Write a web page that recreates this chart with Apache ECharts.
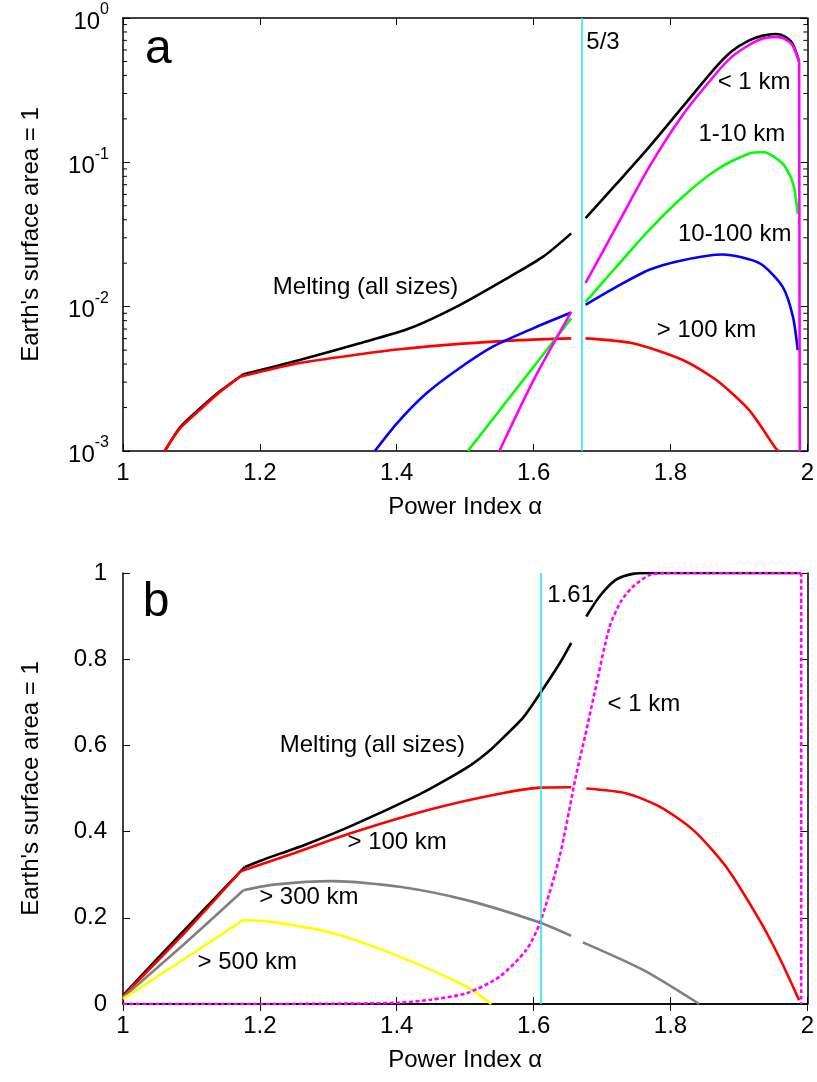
<!DOCTYPE html>
<html><head><meta charset="utf-8">
<script src="https://cdn.jsdelivr.net/npm/echarts@6/dist/echarts.min.js"></script>
<style>html,body{margin:0;padding:0;background:#fff}#c{width:817px;height:1082px}</style>
</head><body><div id="c"></div>
<script>
// ---------- tick values ----------
const xTickValues = [1, 1.2, 1.4, 1.6, 1.8, 2];
const topMinorTicks = [0.002,0.003,0.004,0.005,0.006,0.007,0.008,0.009,
                       0.02,0.03,0.04,0.05,0.06,0.07,0.08,0.09,
                       0.2,0.3,0.4,0.5,0.6,0.7,0.8,0.9];
const topVLine = 5/3;
const botVLine = 1.61;

// ---------- panel a (log scale) ----------
const topBlackLeft = [[1.061,0.001],[1.083,0.00145],[1.112,0.00196],[1.142,0.0026],[1.176,0.0034],
  [1.258,0.00427],[1.346,0.00557],[1.419,0.00708],[1.492,0.01026],[1.565,0.0161],[1.614,0.0222],
  [1.655,0.0322]];
const topBlackRight = [[1.676,0.041],[1.721,0.0708],[1.769,0.128],[1.818,0.243],[1.867,0.46],
  [1.89,0.59],[1.915,0.70],[1.935,0.755],[1.954,0.775],[1.966,0.75],[1.978,0.67],[1.988,0.50]];
const topRedLeft = [[1.061,0.001],[1.083,0.00143],[1.112,0.00192],[1.142,0.00257],[1.171,0.00327],
  [1.258,0.00407],[1.346,0.00468],[1.404,0.00507],[1.492,0.00552],[1.58,0.00586],[1.655,0.00603]];
const topRedRight = [[1.676,0.00603],[1.745,0.00557],[1.818,0.00427],[1.867,0.0031],[1.915,0.00192],
  [1.954,0.00104],[1.958,0.001]];
const topBlueLeft = [[1.368,0.001],[1.40,0.00155],[1.443,0.0025],[1.49,0.0037],[1.541,0.0053],
  [1.60,0.0071],[1.655,0.0091]];
const topBlueRight = [[1.676,0.0103],[1.721,0.0137],[1.769,0.018],[1.818,0.021],[1.876,0.023],
  [1.93,0.020],[1.964,0.0137],[1.979,0.0085],[1.986,0.005]];
const topGreenLeft = [[1.504,0.001],[1.58,0.0029],[1.655,0.0083]];
const topGreenRight = [[1.676,0.0108],[1.721,0.0189],[1.769,0.034],[1.818,0.0578],[1.867,0.0885],
  [1.915,0.115],[1.935,0.118],[1.964,0.098],[1.979,0.0715],[1.986,0.044]];
const topMagentaLeft = [[1.55,0.001],[1.60,0.0031],[1.655,0.0092]];
const topMagentaRight = [[1.676,0.0146],[1.721,0.0358],[1.769,0.093],[1.818,0.213],[1.867,0.414],
  [1.89,0.54],[1.915,0.65],[1.935,0.72],[1.954,0.74],[1.966,0.72],[1.978,0.65],[1.988,0.50],[1.989,0.001]];
const topNotes = [[1.677,0.68,'5/3'],[1.869,0.36,'< 1 km'],[1.841,0.155,'1-10 km'],
  [1.811,0.0318,'10-100 km'],[1.78,0.0069,'> 100 km'],[1.219,0.0137,'Melting (all sizes)']];
const topLetter = [[1.032,0.6,'a']];

// ---------- panel b (linear) ----------
const botBlackLeft = [[1.0,0.02],[1.09,0.172],[1.178,0.318],[1.2,0.332],[1.27,0.372],[1.336,0.415],
  [1.434,0.487],[1.47,0.518],[1.507,0.553],[1.535,0.587],[1.555,0.617],[1.585,0.665],[1.61,0.722],
  [1.638,0.79],[1.655,0.838]];
const botBlackRight = [[1.677,0.899],[1.696,0.945],[1.72,0.984],[1.745,0.998],[1.77,1.0],[1.99,1.0]];
const botRedLeft = [[1.0,0.018],[1.09,0.165],[1.172,0.308],[1.25,0.35],[1.336,0.398],[1.45,0.452],
  [1.55,0.488],[1.609,0.502],[1.655,0.503]];
const botRedRight = [[1.677,0.50],[1.735,0.489],[1.784,0.458],[1.833,0.404],[1.881,0.319],
  [1.93,0.195],[1.96,0.105],[1.988,0.009]];
const botGrayLeft = [[1.0,0.015],[1.09,0.14],[1.176,0.264],[1.22,0.277],[1.307,0.285],[1.404,0.272],
  [1.502,0.241],[1.609,0.189],[1.655,0.158]];
const botGrayRight = [[1.672,0.143],[1.76,0.079],[1.842,0.0]];
const botYellow = [[1.0,0.012],[1.09,0.105],[1.176,0.195],[1.22,0.19],[1.307,0.164],[1.404,0.11],
  [1.502,0.04],[1.538,0.0]];
const botMagenta = [[1.0,0],[1.2,0],[1.3,0.0005],[1.404,0.003],[1.45,0.01],[1.502,0.025],[1.55,0.063],
  [1.589,0.125],[1.609,0.187],[1.638,0.342],[1.662,0.53],[1.675,0.62],[1.689,0.721],[1.711,0.875],
  [1.728,0.935],[1.745,0.968],[1.769,0.995],[1.79,1.0],[1.991,1.0],[1.991,0]];
const botNotes = [[1.620,0.949,'1.61'],[1.708,0.696,'< 1 km'],[1.229,0.599,'Melting (all sizes)'],
  [1.328,0.376,'> 100 km'],[1.199,0.248,'> 300 km'],[1.109,0.097,'> 500 km']];
const botLetter = [[1.029,0.93,'b']];

// x positions where curves have a sharp corner (kept unsmoothed)
const topKinks = {black:1.176, red:1.171, magenta:1.988};
const botKinks = {black:1.178, red:1.172, gray:1.176, yellow:1.176, magenta:1.991};

const FONT = 'Liberation Sans, Arial, sans-serif';
const chart = echarts.init(document.getElementById('c'), null, {renderer:'canvas'});

const axisLineStyle = {show:true, lineStyle:{color:'#000', width:1.5}};
const tick = {show:true, inside:true, length:7, lineStyle:{color:'#000', width:1}};
function xAx(grid, pos, showLabel) {
  return {type:'value', gridIndex:grid, position:pos, min:1, max:2, interval:0.2,
    axisLine:axisLineStyle, axisTick:tick, splitLine:{show:false},
    axisLabel:{show:showLabel, color:'#000', fontSize:24, fontFamily:FONT, margin:10},
    name: showLabel ? 'Power Index α' : '', nameLocation:'middle', nameGap:44,
    nameTextStyle:{color:'#000', fontSize:24, fontFamily:FONT}};
}
function yLog(grid, pos, showLabel) {
  return {type:'log', logBase:10, gridIndex:grid, position:pos, min:0.001, max:1, interval:1,
    axisLine:axisLineStyle, axisTick:tick, splitLine:{show:false}, minorTick:{show:false},
    axisLabel:{show:showLabel, margin:14, color:'#000',
      formatter: v => '{b|10}{s|' + Math.round(Math.log10(v)) + '}',
      rich:{b:{fontSize:24, fontFamily:FONT, color:'#000', padding:[8,0,0,0]},
            s:{fontSize:16, fontFamily:FONT, color:'#000', verticalAlign:'top'}}},
    name: showLabel ? "Earth's surface area = 1" : '', nameLocation:'middle', nameGap:80,
    nameTextStyle:{color:'#000', fontSize:24, fontFamily:FONT}};
}
function yLin(grid, pos, showLabel) {
  return {type:'value', gridIndex:grid, position:pos, min:0, max:1, interval:0.2,
    axisLine:axisLineStyle, axisTick:tick, splitLine:{show:false},
    axisLabel:{show:showLabel, margin:16, color:'#000', fontSize:24, fontFamily:FONT},
    name: showLabel ? "Earth's surface area = 1" : '', nameLocation:'middle', nameGap:80,
    nameTextStyle:{color:'#000', fontSize:24, fontFamily:FONT}};
}
function line(data, color, xi, yi, extra) {
  return Object.assign({type:'line', data:data, xAxisIndex:xi, yAxisIndex:yi, showSymbol:false,
    symbol:'none', smooth:0.25, clip:true, animation:false, silent:true,
    lineStyle:{color:color, width:2.6}}, extra || {});
}
// split a curve at a corner (by index) so each side is smoothed independently
function curve(data, color, xi, yi, kink, extra) {
  if (kink === undefined) return [line(data, color, xi, yi, extra)];
  const i = data.findIndex(p => p[0] >= kink);
  return [line(data.slice(0, i + 1), color, xi, yi, extra), line(data.slice(i), color, xi, yi, extra)];
}
function vline(x, xi, yi) {
  return {type:'line', data:[], xAxisIndex:xi, yAxisIndex:yi, silent:true, z:1,
    markLine:{symbol:['none','none'], silent:true, animation:false, label:{show:false},
      lineStyle:{color:'#22e6f0', width:1.6, type:'solid'}, data:[{xAxis:x}]}};
}
function notes(data, xi, yi, size) {
  return {type:'scatter', data:data, xAxisIndex:xi, yAxisIndex:yi, symbolSize:0, silent:true, z:10,
    itemStyle:{color:'#000', opacity:1},
    label:{show:true, position:'right', distance:0, formatter:p => p.data[2], opacity:1,
      color:'#000', fontSize:size, fontFamily:FONT, textBorderWidth:0}};
}
const minorTickSeries = {
  type:'custom', xAxisIndex:0, yAxisIndex:0, silent:true, clip:false, z:5,
  data: topMinorTicks.map(v => [1, v]),
  renderItem: (params, api) => {
    const y = api.value(1);
    const l = api.coord([1, y]);
    const r = api.coord([2, y]);
    return {type:'group', children:[
      {type:'line', shape:{x1:l[0], y1:l[1], x2:l[0]+4, y2:l[1]}, style:{stroke:'#000', lineWidth:1}},
      {type:'line', shape:{x1:r[0], y1:r[1], x2:r[0]-4, y2:r[1]}, style:{stroke:'#000', lineWidth:1}}
    ]};
  }
};
const dash = {lineStyle:{color:'#ff00ff', width:2.6, type:[4,2.5]}};

chart.setOption({
  animation:false,
  backgroundColor:'#fff',
  grid:[{left:123, top:18, width:685, height:433},
        {left:123, top:573, width:685, height:431}],
  xAxis:[xAx(0,'bottom',true), xAx(0,'top',false), xAx(1,'bottom',true), xAx(1,'top',false)],
  yAxis:[yLog(0,'left',true), yLog(0,'right',false), yLin(1,'left',true), yLin(1,'right',false)],
  series:[
    vline(topVLine, 0, 0),
    minorTickSeries,
    ...curve(topBlackLeft,'#000000',0,0,topKinks.black), ...curve(topBlackRight,'#000000',0,0),
    ...curve(topRedLeft,'#ff0000',0,0,topKinks.red), ...curve(topRedRight,'#ff0000',0,0),
    ...curve(topBlueLeft,'#0000ff',0,0), ...curve(topBlueRight,'#0000ff',0,0),
    ...curve(topGreenLeft,'#00ff00',0,0), ...curve(topGreenRight,'#00ff00',0,0),
    ...curve(topMagentaLeft,'#ff00ff',0,0), ...curve(topMagentaRight,'#ff00ff',0,0,topKinks.magenta),
    notes(topNotes,0,0,24), notes(topLetter,0,0,48),
    vline(botVLine, 2, 2),
    ...curve(botBlackLeft,'#000000',2,2,botKinks.black), ...curve(botBlackRight,'#000000',2,2),
    ...curve(botRedLeft,'#ff0000',2,2,botKinks.red), ...curve(botRedRight,'#ff0000',2,2),
    ...curve(botGrayLeft,'#808080',2,2,botKinks.gray), ...curve(botGrayRight,'#808080',2,2),
    ...curve(botYellow,'#ffff00',2,2,botKinks.yellow),
    ...curve(botMagenta,'#ff00ff',2,2,botKinks.magenta,dash),
    notes(botNotes,2,2,24), notes(botLetter,2,2,48)
  ]
});
</script></body></html>
